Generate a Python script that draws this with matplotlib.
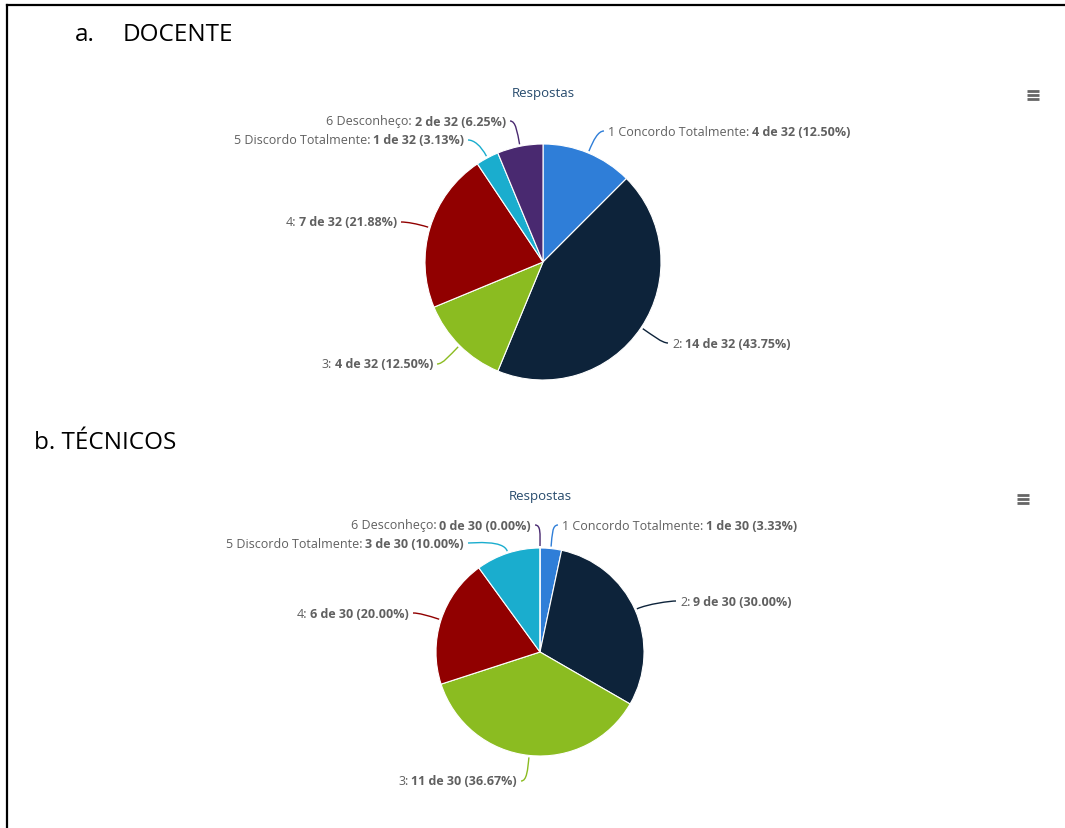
import numpy as np
import matplotlib.pyplot as plt
from matplotlib.path import Path
from matplotlib.patches import PathPatch

W, H = 1065, 829

categorias = ['1 Concordo Totalmente', '2', '3', '4', '5 Discordo Totalmente', '6 Desconheço']
docente = [4, 14, 4, 7, 1, 2]
tecnicos = [1, 9, 11, 6, 3, 0]
cores = ['#2f7ed8', '#0d233a', '#8bbc21', '#910000', '#1aadce', '#492970']

# label anchors (pixel coords, y from top) and side of each label
rotulos_doc = [(604, 132, 'L'), (668, 344, 'L'), (437, 365, 'R'),
               (401, 223, 'R'), (468, 141, 'R'), (510, 122, 'R')]
rotulos_tec = [(558, 526, 'L'), (676, 602, 'L'), (521, 782, 'R'),
               (413, 614, 'R'), (468, 544, 'R'), (535, 526, 'R')]

fig = plt.figure(figsize=(W / 100, H / 100), dpi=100)
ax = fig.add_axes([0, 0, 1, 1])
FONT = 'Open Sans'
CINZA = '#606060'


def Y(y):
    return H - y


def pct(v, total):
    # round half up, like the web chart does
    return f'{np.floor(10000 * v / total + 0.5) / 100:.2f}'


def rotulo(ax, lx, ly, lado, nome, valor, cor, ang, cx, cy, r):
    # soft connector from the wedge edge to the label
    a = np.deg2rad(ang)
    ex, ey = cx + (r + 2) * np.sin(a), cy - (r + 2) * np.cos(a)
    mx, my = cx + (r + 14) * np.sin(a), cy - (r + 14) * np.cos(a)
    verts = [(lx, Y(ly)), (lx + (-6 if lado == 'L' else 6), Y(ly)),
             (mx, Y(my)), (ex, Y(ey))]
    p = Path(verts, [Path.MOVETO, Path.CURVE4, Path.CURVE4, Path.CURVE4])
    ax.add_patch(PathPatch(p, fc='none', ec=cor, lw=1))
    kw = dict(fontsize=9.0, family=FONT, color=CINZA, va='center')
    if lado == 'L':
        t = ax.text(lx + 4, Y(ly), nome + ':', ha='left', **kw)
        ax.annotate(valor, xy=(1, 0.5), xycoords=t, xytext=(2, 0),
                    textcoords='offset points', ha='left',
                    fontweight='bold', **kw)
    else:
        t = ax.text(lx - 4, Y(ly), valor, ha='right', fontweight='bold', **kw)
        ax.annotate(nome + ':', xy=(0, 0.5), xycoords=t, xytext=(-2, 0),
                    textcoords='offset points', ha='right', **kw)


def grafico(ax, valores, cx, cy, r, rotulos, ytitulo, menu):
    total = sum(valores)
    ax.pie(valores, colors=cores, startangle=90, counterclock=False,
           center=(cx, Y(cy)), radius=r,
           wedgeprops=dict(edgecolor='white', linewidth=0.8))
    ax.text(cx, Y(ytitulo), 'Respostas', ha='center', va='center',
            fontsize=9.5, family=FONT, color='#274b6d')
    acum = 0
    for i, v in enumerate(valores):
        ang = (acum + v / 2) / total * 360
        acum += v
        nome = categorias[i]
        valor = f'{v} de {total} ({pct(v, total)}%)'
        lx, ly, lado = rotulos[i]
        rotulo(ax, lx, ly, lado, nome, valor, cores[i], ang, cx, cy, r)
    # export menu icon
    mx, my = menu
    for k in (-4, 0, 4):
        ax.plot([mx - 6, mx + 6], [Y(my + k), Y(my + k)], color='#666666',
                lw=2, solid_capstyle='butt')


grafico(ax, docente, 543, 263, 118, rotulos_doc, 94, (1033, 96))
grafico(ax, tecnicos, 540, 653, 104, rotulos_tec, 497, (1023, 500))

ax.text(75, Y(35), 'a.', fontsize=17.5, family='Open Sans',
        va='center', ha='left', color='black')
ax.text(123, Y(35), 'DOCENTE', fontsize=17.5, family='Open Sans',
        va='center', ha='left', color='black')
ax.text(34, Y(443), 'b. TÉCNICOS', fontsize=17.5, family='Open Sans',
        va='center', ha='left', color='black')

# page frame (top and left edges)
ax.plot([7, W], [Y(6), Y(6)], color='black', lw=1.6)
ax.plot([7, 7], [Y(6), 0], color='black', lw=1.6)

ax.set_xlim(0, W)
ax.set_ylim(0, H)
ax.set_aspect('auto')
ax.axis('off')
fig.savefig('out.png', dpi=100, facecolor='white')
